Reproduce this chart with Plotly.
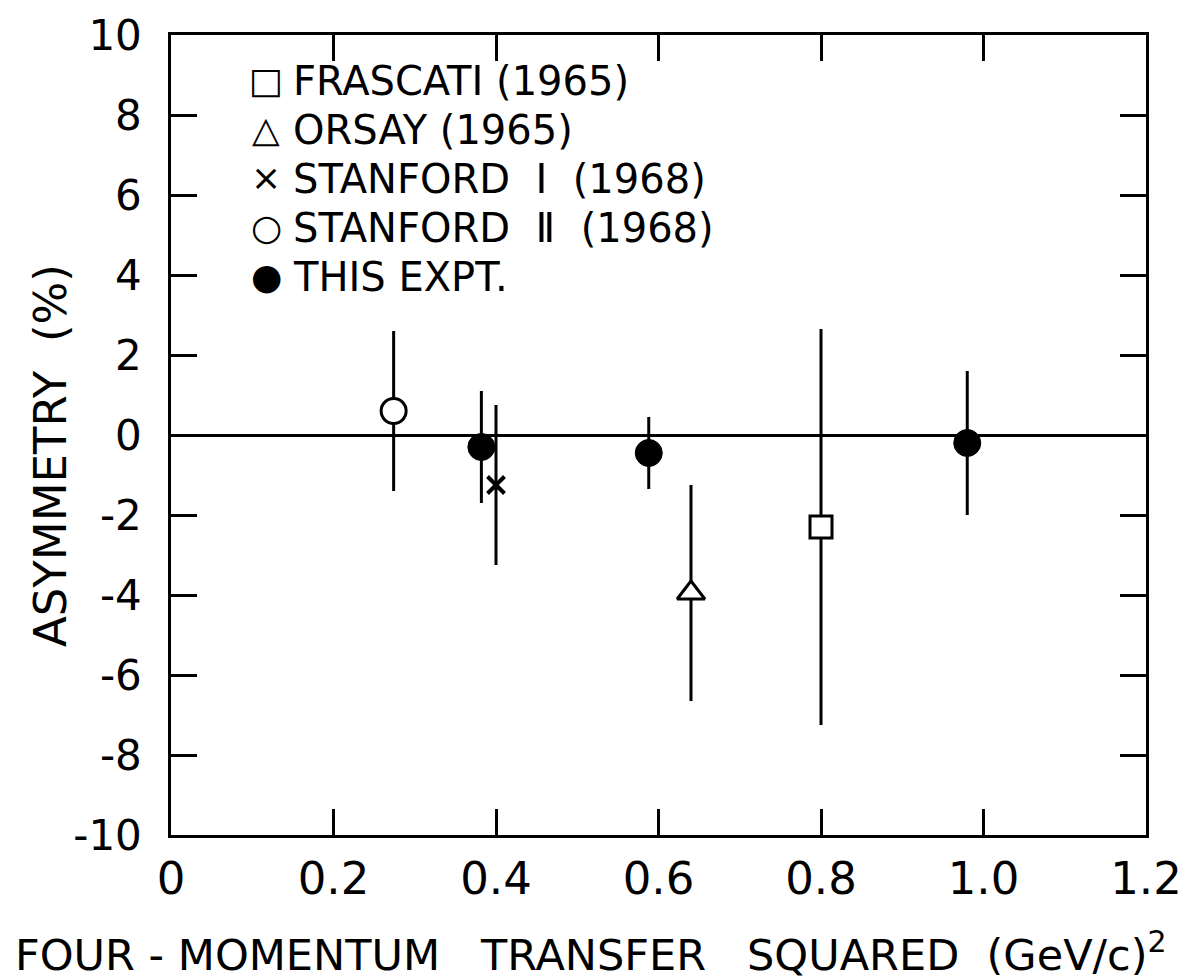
import plotly.graph_objects as go

# ---- data ----
frascati_x = [0.80]
frascati_y = [-2.3]
frascati_err = [4.95]

orsay_x = [0.64]
orsay_y = [-3.95]
orsay_err = [2.7]

stanford1_x = [0.40]
stanford1_y = [-1.25]
stanford1_err = [2.0]

stanford2_x = [0.274]
stanford2_y = [0.6]
stanford2_err = [2.0]

this_x = [0.382, 0.588, 0.98]
this_y = [-0.3, -0.45, -0.2]
this_err = [1.4, 0.9, 1.8]

x_tickvals = [0, 0.2, 0.4, 0.6, 0.8, 1.0, 1.2]
x_ticktext = ["0", "0.2", "0.4", "0.6", "0.8", "1.0", "1.2"]
y_tickvals = [10, 8, 6, 4, 2, 0, -2, -4, -6, -8, -10]
y_ticktext = ["10", "8", "6", "4", "2", "0", "-2", "-4", "-6", "-8", "-10"]

legend_symbols = ["\u25a1", "\u25b3", "\u00d7", "\u25cb", "\u25cf"]
legend_labels = [
    "FRASCATI (1965)",
    "ORSAY (1965)",
    "STANFORD\u00a0 \u2160\u00a0 (1968)",
    "STANFORD\u00a0 \u2161\u00a0 (1968)",
    "THIS EXPT.",
]

x_title = "FOUR\u00a0-\u00a0MOMENTUM\u00a0\u00a0 TRANSFER\u00a0\u00a0 SQUARED\u00a0 (GeV/c)<sup>2</sup>"
y_title = "ASYMMETRY\u00a0 (%)"

# ---- layout geometry ----
W, H = 1193, 980
L, R, T, B = 163, 1138, 27, 827
FONT = "DejaVu Sans"


def px2x(px):
    return (px - L) / (R - L)


def px2y(py):
    return (B - py) / (B - T)


err_style = dict(type="data", width=0, thickness=3, color="black")

fig = go.Figure()

fig.add_trace(go.Scatter(
    x=frascati_x, y=frascati_y, mode="markers", name="FRASCATI (1965)",
    error_y=dict(array=frascati_err, **err_style),
    marker=dict(symbol="square", size=22, color="white",
                line=dict(color="black", width=3)),
))
fig.add_trace(go.Scatter(
    x=orsay_x, y=orsay_y, mode="markers", name="ORSAY (1965)",
    error_y=dict(array=orsay_err, **err_style),
    marker=dict(symbol="triangle-up", size=24, color="white",
                line=dict(color="black", width=3)),
))
fig.add_trace(go.Scatter(
    x=stanford1_x, y=stanford1_y, mode="markers", name="STANFORD I (1968)",
    error_y=dict(array=stanford1_err, **err_style),
    marker=dict(symbol="x-thin", size=17, color="black",
                line=dict(color="black", width=4)),
))
fig.add_trace(go.Scatter(
    x=stanford2_x, y=stanford2_y, mode="markers", name="STANFORD II (1968)",
    error_y=dict(array=stanford2_err, **err_style),
    marker=dict(symbol="circle", size=25, color="white",
                line=dict(color="black", width=3)),
))
fig.add_trace(go.Scatter(
    x=this_x, y=this_y, mode="markers", name="THIS EXPT.",
    error_y=dict(array=this_err, **err_style),
    marker=dict(symbol="circle", size=27, color="black",
                line=dict(color="black", width=1)),
))

annotations = []
row_y = [72, 121, 170, 219, 268]
for sym, lab, py in zip(legend_symbols, legend_labels, row_y):
    annotations.append(dict(
        x=px2x(258), y=px2y(py), xref="paper", yref="paper",
        text=sym, showarrow=False, xanchor="center", yanchor="middle",
        font=dict(family=FONT, size=36, color="black"),
    ))
    annotations.append(dict(
        x=px2x(283), y=px2y(py + 1), xref="paper", yref="paper",
        text=lab, showarrow=False, xanchor="left", yanchor="middle",
        font=dict(family=FONT, size=40, color="black"),
    ))

annotations.append(dict(
    x=px2x(5), y=px2y(944), xref="paper", yref="paper",
    text=x_title, showarrow=False, xanchor="left", yanchor="middle",
    font=dict(family=FONT, size=43, color="black"),
))
annotations.append(dict(
    x=px2x(42), y=px2y(448), xref="paper", yref="paper",
    text=y_title, showarrow=False, xanchor="center", yanchor="middle",
    textangle=-90,
    font=dict(family=FONT, size=45, color="black"),
))

axis_common = dict(
    showgrid=False, showline=True, linecolor="black", linewidth=2.5,
    mirror="ticks", ticks="inside", ticklen=26, tickwidth=2.5,
    tickcolor="black", ticklabeloverflow="allow", automargin=False,
)

fig.update_layout(
    width=W, height=H,
    margin=dict(l=L, r=W - R, t=T, b=H - B, pad=0, autoexpand=False),
    paper_bgcolor="white", plot_bgcolor="white",
    showlegend=False,
    annotations=annotations,
    font=dict(family=FONT, color="black"),
    xaxis=dict(
        range=[0, 1.2], tickvals=x_tickvals, ticktext=x_ticktext,
        tickfont=dict(family=FONT, size=45, color="black"),
        zeroline=False, ticklabelstandoff=2,
        **axis_common,
    ),
    yaxis=dict(
        range=[-10, 10], tickvals=y_tickvals, ticktext=y_ticktext,
        tickfont=dict(family=FONT, size=42, color="black"),
        zeroline=True, zerolinecolor="black", zerolinewidth=2.5,
        ticklabelstandoff=18,
        **axis_common,
    ),
)

fig.write_html("out.html")
